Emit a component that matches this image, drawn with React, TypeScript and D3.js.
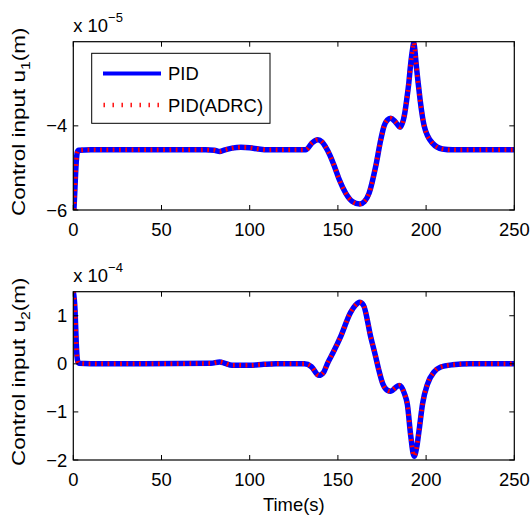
import React from "react";
import * as d3 from "d3";

// ---- data (values in units of 1e-5 for u1, 1e-4 for u2) ----
const timeU1 = [0, 0.8, 1.6, 2.3, 3, 10, 40, 75, 80, 83, 86, 90, 95, 100, 105, 110, 131.7, 135.5, 138.6, 141, 143, 145.5, 148.1, 151, 154.4, 158.2, 162.3, 165, 167.7, 171.4, 174.3, 176.2, 178.1, 179.9, 182.5, 185.2, 187.9, 189, 190.2, 191.1, 192.6, 193, 193.4, 194.5, 195.5, 196.6, 198.9, 203.6, 209.3, 215, 250];
const u1Pid = [-6.3, -5.6, -4.9, -4.62, -4.58, -4.57, -4.57, -4.57, -4.58, -4.61, -4.57, -4.53, -4.51, -4.52, -4.55, -4.57, -4.57, -4.4, -4.33, -4.38, -4.5, -4.7, -4.97, -5.3, -5.6, -5.8, -5.86, -5.8, -5.6, -4.97, -4.33, -4.0, -3.86, -3.82, -3.9, -4.03, -3.7, -3.38, -2.98, -2.59, -2.11, -2.02, -2.11, -2.59, -2.98, -3.38, -4.0, -4.41, -4.55, -4.57, -4.57];
const u1Adrc = u1Pid;

const timeU2 = [0, 1, 1.6, 2.1, 2.6, 3.2, 10, 40, 78, 83, 86, 90, 95, 100, 108, 115, 131, 135, 139.2, 142, 144, 147.5, 151.5, 157.2, 160, 162.3, 164.5, 168.6, 171.4, 173, 175.5, 178, 180, 182.5, 184.7, 186, 187.5, 189.4, 191.3, 193.2, 194.6, 196, 198, 200.8, 204.5, 208, 215, 225, 250];
const u2Pid = [1.5, 1.1, 0.5, 0.15, 0.04, 0.01, 0, 0, 0.01, 0.04, 0.01, -0.03, -0.03, -0.03, -0.01, 0, 0, -0.06, -0.24, -0.17, 0.0, 0.25, 0.56, 1.07, 1.22, 1.28, 1.22, 0.56, 0.15, -0.1, -0.42, -0.55, -0.57, -0.5, -0.45, -0.48, -0.6, -0.85, -1.5, -1.92, -1.75, -1.39, -0.83, -0.42, -0.17, -0.07, -0.02, 0, 0];
const u2Adrc = u2Pid;

const xTicks = [0, 50, 100, 150, 200, 250];
const u1Ticks = [-6, -4];
const u2Ticks = [-2, -1, 0, 1];
const legendLabels = ["PID", "PID(ADRC)"];

const FONT = "'Liberation Sans', Arial, sans-serif";
const FS = 18.4;
const LEFT = 73.3;
const RIGHT = 514.3;
const BLUE = "#0000ff";
const RED = "#ff0000";

type PanelProps = {
  id: string;
  top: number;
  bottom: number;
  yDomain: [number, number];
  yTicks: number[];
  times: number[];
  pid: number[];
  adrc: number[];
  exponent: string;
  sub: string;
  legend?: boolean;
  xLabel?: boolean;
};

function Panel({ id, top, bottom, yDomain, yTicks, times, pid, adrc, exponent, sub, legend, xLabel }: PanelProps) {
  const x = d3.scaleLinear().domain([0, 250]).range([LEFT, RIGHT]);
  const y = d3.scaleLinear().domain(yDomain).range([bottom, top]);
  const line = d3
    .line<number>()
    .x((_, i) => x(times[i]))
    .y((d) => y(d))
    .curve(d3.curveMonotoneX);
  const tl = 5;
  const midY = (top + bottom) / 2 - 4;
  return (
    <g>
      <defs>
        <clipPath id={id}>
          <rect x={LEFT} y={top} width={RIGHT - LEFT} height={bottom - top} />
        </clipPath>
      </defs>
      <rect x={LEFT} y={top} width={RIGHT - LEFT} height={bottom - top} fill="#fff" />
      <g clipPath={`url(#${id})`}>
        <path d={line(pid) || ""} fill="none" stroke={BLUE} strokeWidth={5.5} strokeLinejoin="round" />
        <path d={line(adrc) || ""} fill="none" stroke={RED} strokeWidth={4.5} strokeDasharray="1.8 4.5" />
      </g>
      {/* ticks */}
      {xTicks.map((t) => (
        <g key={"x" + t}>
          <line x1={x(t)} x2={x(t)} y1={bottom} y2={bottom - tl} stroke="#000" />
          <line x1={x(t)} x2={x(t)} y1={top} y2={top + tl} stroke="#000" />
          <text x={x(t)} y={bottom + 26} textAnchor="middle" fontSize={FS} fontFamily={FONT} fill="#000">
            {t}
          </text>
        </g>
      ))}
      {yTicks.map((t) => (
        <g key={"y" + t}>
          <line x1={LEFT} x2={LEFT + tl} y1={y(t)} y2={y(t)} stroke="#000" />
          <line x1={RIGHT} x2={RIGHT - tl} y1={y(t)} y2={y(t)} stroke="#000" />
          <text x={LEFT - 6} y={y(t) + 6.5} textAnchor="end" fontSize={FS} fontFamily={FONT} fill="#000">
            {t < 0 ? "\u2212" + Math.abs(t) : String(t)}
          </text>
        </g>
      ))}
      <rect x={LEFT} y={top} width={RIGHT - LEFT} height={bottom - top} fill="none" stroke="#000" strokeWidth={1.2} />
      {/* exponent */}
      <text x={LEFT} y={top - 10} fontSize={FS} fontFamily={FONT} fill="#000">
        x 10
        <tspan dy={-10} fontSize={13}>
          {exponent}
        </tspan>
      </text>
      {/* y label */}
      <text
        transform={`translate(25,${midY}) rotate(-90) scale(1.22,1)`}
        textAnchor="middle"
        fontSize={FS}
        fontFamily={FONT}
        fill="#000"
      >
        Control input u
        <tspan dy={5} fontSize={13}>
          {sub}
        </tspan>
        <tspan dy={-5}>(m)</tspan>
      </text>
      {xLabel && (
        <text x={(LEFT + RIGHT) / 2} y={510.5} textAnchor="middle" fontSize={FS} fontFamily={FONT} fill="#000">
          Time(s)
        </text>
      )}
      {legend && (
        <g>
          <rect x={91.7} y={53.3} width={178.3} height={70} fill="#fff" stroke="#000" strokeWidth={1} />
          <line x1={103} x2={161} y1={73.5} y2={73.5} stroke={BLUE} strokeWidth={4} />
          <line x1={103.5} x2={161} y1={105} y2={105} stroke={RED} strokeWidth={4.5} strokeDasharray="1.4 7.6" />
          <text x={168} y={80} fontSize={FS} fontFamily={FONT} fill="#000">
            {legendLabels[0]}
          </text>
          <text x={168} y={111.5} fontSize={FS} fontFamily={FONT} fill="#000">
            {legendLabels[1]}
          </text>
        </g>
      )}
    </g>
  );
}

export default function App() {
  return (
    <svg
      width={531}
      height={520}
      style={{ position: "absolute", left: 0, top: 0, background: "#fff" }}
      xmlns="http://www.w3.org/2000/svg"
    >
      <rect width={531} height={520} fill="#fff" />
      <Panel
        id="clipTop"
        top={41.7}
        bottom={210}
        yDomain={[-6, -2]}
        yTicks={u1Ticks}
        times={timeU1}
        pid={u1Pid}
        adrc={u1Adrc}
        exponent={"\u22125"}
        sub="1"
        legend
      />
      <Panel
        id="clipBottom"
        top={291.7}
        bottom={460}
        yDomain={[-2, 1.5]}
        yTicks={u2Ticks}
        times={timeU2}
        pid={u2Pid}
        adrc={u2Adrc}
        exponent={"\u22124"}
        sub="2"
        xLabel
      />
    </svg>
  );
}
